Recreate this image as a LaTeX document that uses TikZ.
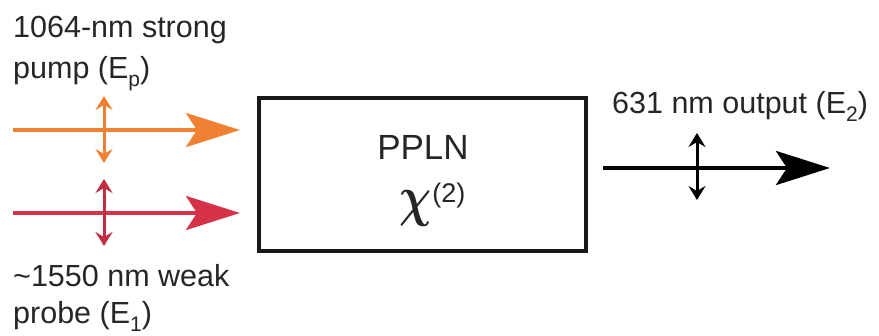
\RequirePackage{fix-cm}
\documentclass[tikz,border=0pt]{standalone}
\usepackage{amsmath}
\usepackage{fontspec}
\setmainfont{Liberation Sans}
\usetikzlibrary{arrows.meta}
\definecolor{pumpc}{RGB}{240,128,50}
\definecolor{probec}{RGB}{214,50,74}
\newcommand{\lowsub}[1]{\raisebox{-0.28em}{\fontsize{21}{21}\selectfont #1}}
\tikzset{
  x=1pt, y=-1pt,
  beam/.style={line width=4pt, -{Stealth[length=54pt,width=34pt,inset=11pt]}},
  pol/.style={line width=3pt, arrows={Stealth[length=14pt,width=17pt,inset=5pt]-Stealth[length=14pt,width=17pt,inset=5pt]}},
  lbl/.style={inner sep=0pt, anchor=base west, font=\fontsize{30.5}{36}\selectfont, text=black!85},
}
\begin{document}
\begin{tikzpicture}
\useasboundingbox (0,0) rectangle (879,335);
% labels
\node[lbl] (l1a) at (13,37) {1064-nm strong};
\node[lbl] (l1b) at (13,78) {pump (E\lowsub{p})};
\node[lbl] (l2a) at (13,286) {\char`\~1550 nm weak};
\node[lbl] (l2b) at (13,323) {probe (E\lowsub{1})};
\node[lbl] (l3) at (612,113) {631 nm output (E\lowsub{2})};
% crystal
\node[draw=black!90, line width=3.5pt, minimum width=327pt, minimum height=153pt, inner sep=0pt] (ppln) at (422.5,174.5) {};
\node[inner sep=0pt, anchor=base, font=\fontsize{35}{40}\selectfont, text=black!85] (pplnt) at (423,159) {PPLN};
\node[inner sep=0pt, anchor=base west, text=black!85] (chi) at (399,215) {\scalebox{0.8}[1]{\fontsize{56}{56}\selectfont$\boldsymbol{\chi}$}\hspace{1pt}\raisebox{13pt}{\fontsize{27}{27}\selectfont(2)}};
% beams
\coordinate (pumpS) at (13,130); \coordinate (pumpE) at (240,130);
\coordinate (probeS) at (13,213); \coordinate (probeE) at (240,213);
\coordinate (outS) at (603,168); \coordinate (outE) at (830,168);
\draw[beam, pumpc] (pumpS) -- (pumpE);
\draw[beam, probec] (probeS) -- (probeE);
\draw[beam, black] (outS) -- (outE);
% polarizations
\coordinate (pp1) at (104,96); \coordinate (pp2) at (104,163);
\coordinate (pr1) at (104,179); \coordinate (pr2) at (104,246);
\coordinate (po1) at (697,133); \coordinate (po2) at (697,200);
\draw[pol, pumpc] (pp1) -- (pp2);
\draw[pol, probec!90!black] (pr1) -- (pr2);
\draw[pol, black] (po1) -- (po2);
\end{tikzpicture}
\end{document}
